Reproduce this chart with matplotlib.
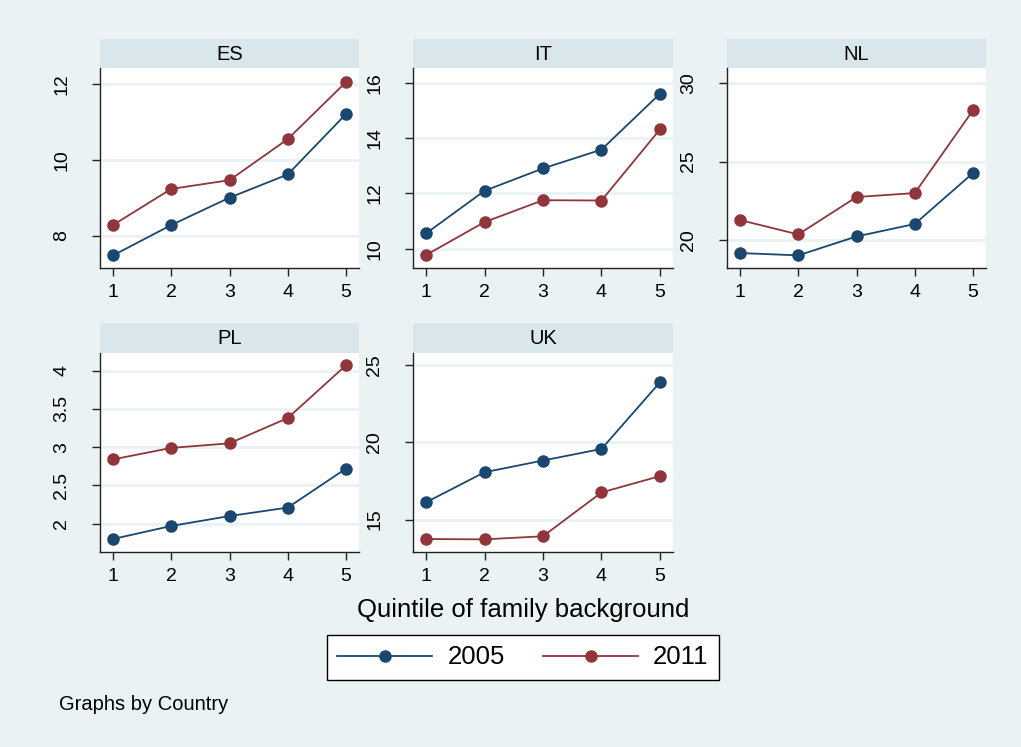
import matplotlib
matplotlib.use("Agg")
import matplotlib.pyplot as plt
from matplotlib.lines import Line2D

plt.rcParams['font.family'] = ['Liberation Sans', 'DejaVu Sans']

# mean outcome by quintile of family background, per country and year
quintiles = [1, 2, 3, 4, 5]
countries = ['ES', 'IT', 'NL', 'PL', 'UK']
years = ['2005', '2011']

es_2005 = [7.49, 8.29, 9.01, 9.62, 11.21]
es_2011 = [8.29, 9.24, 9.47, 10.55, 12.05]
it_2005 = [10.55, 12.09, 12.90, 13.58, 15.60]
it_2011 = [9.77, 10.96, 11.75, 11.74, 14.31]
nl_2005 = [19.20, 19.05, 20.25, 21.04, 24.27]
nl_2011 = [21.29, 20.38, 22.75, 23.00, 28.25]
pl_2005 = [1.80, 1.97, 2.10, 2.21, 2.72]
pl_2011 = [2.84, 2.99, 3.05, 3.38, 4.07]
uk_2005 = [16.12, 18.07, 18.83, 19.58, 23.90]
uk_2011 = [13.74, 13.72, 13.92, 16.76, 17.82]

es_ticks = [8, 10, 12]
it_ticks = [10, 12, 14, 16]
nl_ticks = [20, 25, 30]
pl_ticks = [2, 2.5, 3, 3.5, 4]
uk_ticks = [15, 20, 25]

series = {
    'ES': (es_2005, es_2011, es_ticks),
    'IT': (it_2005, it_2011, it_ticks),
    'NL': (nl_2005, nl_2011, nl_ticks),
    'PL': (pl_2005, pl_2011, pl_ticks),
    'UK': (uk_2005, uk_2011, uk_ticks),
}

# stata s2color look
BG = '#EAF2F3'
STRIP = '#D9E6EB'
GRID = '#EAF2F3'
NAVY = '#1A476F'
MAROON = '#90353B'
AXIS = '#222222'

W, H = 1021, 747
fig = plt.figure(figsize=(W / 100, H / 100), dpi=100, facecolor=BG)


def px_axes(x0, y0, x1, y1, **kw):
    return fig.add_axes([x0 / W, 1 - y1 / H, (x1 - x0) / W, (y1 - y0) / H], **kw)


cols = [(100, 359), (413, 673), (727, 986)]
rows = [(39, 68, 268), (323, 353, 552)]
ylims = {
    'ES': (7.16, 12.42),
    'IT': (9.30, 16.53),
    'NL': (18.25, 30.93),
    'PL': (1.63, 4.23),
    'UK': (12.9, 25.8),
}

for i, c in enumerate(countries):
    x0, x1 = cols[i % 3]
    s0, p0, p1 = rows[i // 3]

    strip = px_axes(x0, s0, x1, p0)
    strip.set_facecolor(STRIP)
    strip.set_xticks([])
    strip.set_yticks([])
    for sp in strip.spines.values():
        sp.set_visible(False)
    strip.text(0.5, 0.47, c, ha='center', va='center', fontsize=14.5,
               transform=strip.transAxes)

    ax = px_axes(x0, p0, x1, p1)
    ax.set_facecolor('white')
    y05, y11, ticks = series[c]
    ax.plot(quintiles, y05, color=NAVY, lw=1.3, marker='o', ms=8,
            mfc=NAVY, mec=NAVY, zorder=3)
    ax.plot(quintiles, y11, color=MAROON, lw=1.3, marker='o', ms=8,
            mfc=MAROON, mec=MAROON, zorder=3)
    ax.set_xlim(0.777, 5.223)
    ax.set_ylim(*ylims[c])
    ax.set_xticks(quintiles)
    ax.set_yticks(ticks)
    ax.set_yticklabels([f'{t:g}' for t in ticks], rotation=90, va='center')
    ax.grid(axis='y', color=GRID, lw=2)
    ax.set_axisbelow(True)
    ax.spines['top'].set_visible(False)
    ax.spines['right'].set_visible(False)
    for sp in ('left', 'bottom'):
        ax.spines[sp].set_color(AXIS)
        ax.spines[sp].set_linewidth(1)
    ax.tick_params(direction='out', length=5.8, width=1, color=AXIS,
                   labelsize=14)
    ax.tick_params(axis='y', pad=15.5)
    ax.tick_params(axis='x', pad=6)

fig.text(523 / W, 1 - 610 / H, 'Quintile of family background',
         ha='center', va='center', fontsize=18.5)

handles = [
    Line2D([], [], color=NAVY, lw=1.3, marker='o', ms=8),
    Line2D([], [], color=MAROON, lw=1.3, marker='o', ms=8),
]
leg = fig.legend(handles, years, loc='center', ncol=2,
                 bbox_to_anchor=(523 / W, 1 - 657.5 / H), fontsize=18.5,
                 frameon=True, fancybox=False, edgecolor='black',
                 handlelength=3.7, handletextpad=0.58, columnspacing=1.5,
                 borderpad=0.4, framealpha=1)
leg.get_frame().set_linewidth(1)

fig.text(59 / W, 1 - 704 / H, 'Graphs by Country', ha='left', va='center',
         fontsize=14.5)

fig.savefig('out.png', dpi=100, facecolor=BG)
